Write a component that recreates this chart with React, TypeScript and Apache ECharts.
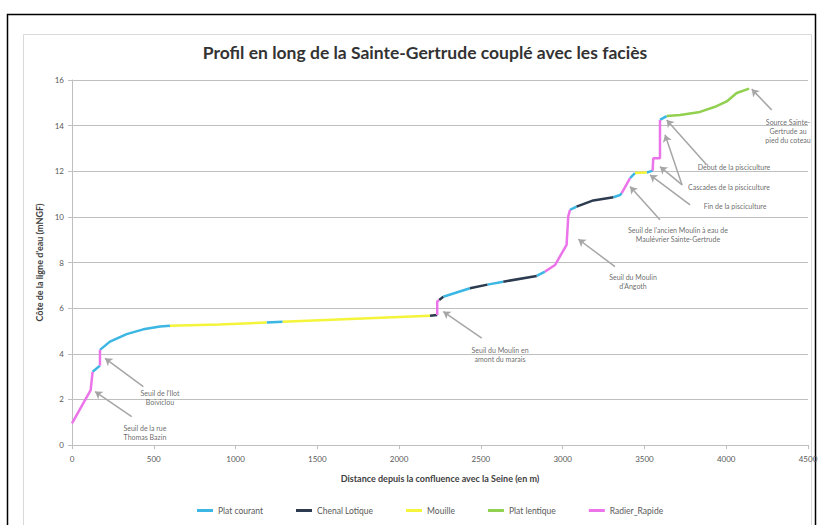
import React, { useEffect, useRef } from "react";
import * as echarts from "echarts";

const TITLE = "Profil en long de la Sainte-Gertrude couplé avec les faciès";
const X_NAME = "Distance depuis la confluence avec la Seine (en m)";
const Y_NAME = "Côte de la ligne d'eau (mNGF)";

const FACIES_NAMES = ["Plat courant", "Chenal Lotique", "Mouille", "Plat lentique", "Radier_Rapide"];
const FACIES_CODES = ["PC", "CL", "M", "PL", "R"];
const FACIES_COLORS = ["#3cb6e2", "#2c3b4f", "#f4f43a", "#92d050", "#ec74ea"];

// profile points (distance in m, elevation in mNGF)
const distances = [
  0, 114, 126, 171, 171, 232, 334, 436, 538, 599,
  900, 1190, 1288, 2189, 2233, 2233, 2245, 2270, 2433, 2540,
  2637, 2841, 2892, 2953, 3024, 3034, 3045, 3085, 3187, 3310,
  3351, 3361, 3412, 3442, 3514, 3550, 3554, 3595, 3595, 3636,
  3718, 3840, 3941, 4003, 4064, 4140,
];
const elevations = [
  0.95, 2.41, 3.21, 3.48, 4.17, 4.53, 4.86, 5.07, 5.19, 5.23,
  5.28, 5.37, 5.40, 5.67, 5.70, 6.29, 6.36, 6.50, 6.87, 7.03,
  7.16, 7.41, 7.60, 7.89, 8.77, 10.01, 10.31, 10.45, 10.72, 10.86,
  10.96, 11.04, 11.70, 11.92, 11.94, 12.03, 12.57, 12.57, 14.25, 14.42,
  14.47, 14.60, 14.85, 15.06, 15.43, 15.62,
];
// facies of each segment (point i -> point i+1)
const segmentFacies = [
  "R", "R", "PC", "R", "PC", "PC", "PC", "PC", "PC", "M",
  "M", "PC", "M", "CL", "R", "R", "CL", "PC", "CL", "PC",
  "CL", "PC", "R", "R", "R", "R", "PC", "CL", "CL", "PC",
  "PC", "R", "PC", "M", "PC", "R", "R", "R", "PC", "PL",
  "PL", "PL", "PL", "PL", "PL",
];

// annotations: text, text position, arrow tails and tips
const noteTexts = [
  "Seuil de la rue\nThomas Bazin",
  "Seuil de l'Ilot\nBoiviclou",
  "Seuil du Moulin en\namont du marais",
  "Seuil du Moulin\nd'Angoth",
  "Seuil de l'ancien Moulin à eau de\nMaulévrier Sainte-Gertrude",
  "Fin de la pisciculture",
  "Cascades de la pisciculture",
  "Début de la pisciculture",
  "Source Sainte-\nGertrude au\npied du coteau",
];
const noteX = [446, 538, 2617, 3430, 3705, 4054, 4017, 4048, 4378];
const noteY = [0.55, 2.08, 3.96, 7.18, 9.22, 10.48, 11.33, 12.18, 13.77];

const arrowFrom = [
  [365, 1.24], [436, 2.56], [2505, 4.68], [3320, 7.82], [3595, 9.87],
  [3779, 10.53], [3730, 11.4], [3730, 11.4], [3880, 12.28], [4278, 14.69],
];
const arrowTo = [
  [141, 2.34], [202, 3.8], [2270, 5.85], [3096, 9.02], [3412, 11.33],
  [3534, 11.84], [3595, 12.2], [3626, 13.6], [3636, 14.25], [4156, 15.6],
];

const FONT = "Lato, 'Open Sans', sans-serif";

function buildSeriesData(code: string) {
  const data: any[] = [];
  for (let i = 0; i < segmentFacies.length; i++) {
    if (segmentFacies[i] !== code) continue;
    const contiguous = i > 0 && segmentFacies[i - 1] === code;
    if (!contiguous) {
      if (data.length) data.push([distances[i], "-"]);
      data.push([distances[i], elevations[i]]);
    }
    data.push([distances[i + 1], elevations[i + 1]]);
  }
  return data;
}

export default function App() {
  const ref = useRef<HTMLDivElement>(null);
  useEffect(() => {
    if (!ref.current) return;
    const chart = echarts.init(ref.current, undefined, { renderer: "svg" });
    const lineSeries = FACIES_CODES.map((code, k) => ({
      name: FACIES_NAMES[k],
      type: "line",
      data: buildSeriesData(code),
      showSymbol: false,
      symbol: "none",
      connectNulls: false,
      lineStyle: { color: FACIES_COLORS[k], width: 2.5 },
      itemStyle: { color: FACIES_COLORS[k] },
      z: 3,
    }));
    const noteSeries = {
      name: "notes",
      type: "scatter",
      symbol: "circle",
      symbolSize: 1,
      itemStyle: { color: "rgba(0,0,0,0)" },
      silent: true,
      z: 4,
      data: noteTexts.map((t, i) => ({ name: t, value: [noteX[i], noteY[i]] })),
      label: {
        show: true,
        position: "inside",
        formatter: "{b}",
        fontSize: 7,
        lineHeight: 9,
        color: "#444",
        fontFamily: FONT,
        align: "center",
      },
      markLine: {
        silent: true,
        symbol: ["none", "arrow"],
        symbolSize: 7,
        label: { show: false },
        lineStyle: { color: "#a6a6a6", width: 1.5, type: "solid" },
        data: arrowFrom.map((f, i) => [{ coord: f }, { coord: arrowTo[i] }]),
      },
    };
    chart.setOption({
      animation: false,
      backgroundColor: "#ffffff",
      title: {
        text: TITLE,
        left: 420,
        top: 38,
        textAlign: "center",
        textStyle: { fontFamily: FONT, fontWeight: "bold", fontSize: 17.5, color: "#333" },
      },
      legend: {
        data: FACIES_NAMES,
        left: 192,
        top: 501,
        itemWidth: 16,
        itemHeight: 3,
        icon: "rect",
        itemGap: 33,
        textStyle: { fontFamily: FONT, fontSize: 8.5, color: "#595959" },
      },
      grid: { left: 72, right: 13, top: 80, bottom: 80, containLabel: false },
      xAxis: {
        type: "value",
        min: 0,
        max: 4500,
        interval: 500,
        name: X_NAME,
        nameLocation: "middle",
        nameGap: 29,
        nameTextStyle: { fontFamily: FONT, fontWeight: "bold", fontSize: 9, color: "#404040" },
        axisLine: { show: true, lineStyle: { color: "#bfbfbf", width: 1 } },
        axisTick: { show: true, length: 4, lineStyle: { color: "#bfbfbf" } },
        axisLabel: { fontFamily: FONT, fontSize: 8, color: "#595959", margin: 10, formatter: (v: number) => String(v) },
        splitLine: { show: false },
      },
      yAxis: {
        type: "value",
        min: 0,
        max: 16,
        interval: 2,
        name: Y_NAME,
        nameLocation: "middle",
        nameGap: 23,
        nameTextStyle: { fontFamily: FONT, fontWeight: "bold", fontSize: 9, color: "#404040" },
        axisLine: { show: true, lineStyle: { color: "#bfbfbf", width: 1 } },
        axisTick: { show: true, length: 4, lineStyle: { color: "#bfbfbf" } },
        axisLabel: { fontFamily: FONT, fontSize: 8, color: "#595959", margin: 8 },
        splitLine: { show: true, lineStyle: { color: "#bfbfbf", width: 1 } },
      },
      graphic: [
        {
          type: "rect",
          shape: { x: 7.5, y: 14.5, width: 808, height: 530 },
          style: { fill: "none", stroke: "#000", lineWidth: 1.5 },
          silent: true,
        },
        {
          type: "rect",
          shape: { x: 23.5, y: 34.5, width: 788, height: 510 },
          style: { fill: "none", stroke: "#d9d9d9", lineWidth: 1 },
          silent: true,
        },
      ],
      series: [...lineSeries, noteSeries],
    });
    return () => chart.dispose();
  }, []);
  return <div ref={ref} style={{ position: "fixed", left: 0, top: 0, width: 821, height: 525 }} />;
}
